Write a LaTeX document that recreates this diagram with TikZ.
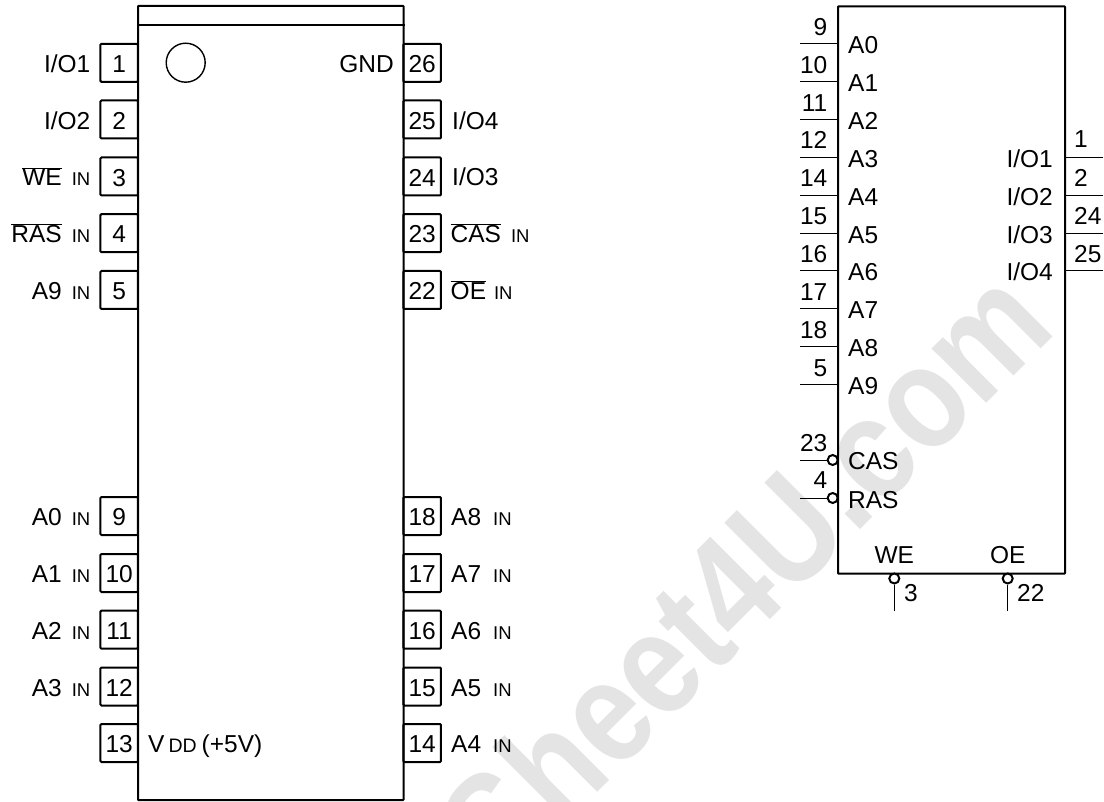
\documentclass[tikz,border=0pt]{standalone}
\usepackage{fontspec}
\setmainfont{Liberation Sans}
\definecolor{markgray}{HTML}{E4E4E4}
\newcommand{\smallin}{{\fontsize{18.5}{18.5}\selectfont IN}}
\newcommand{\barred}[1]{$\overline{\mbox{#1}}$}
\tikzset{
  every node/.style={font=\fontsize{24.5}{25}\selectfont, inner sep=0pt},
  body/.style={draw, line width=2pt, rounded corners=0.5pt},
  pinbox/.style={draw, line width=2pt, rounded corners=1pt, minimum width=37.5pt, minimum height=38pt, text height=19.4pt, text depth=0pt},
  lead/.style={line width=1pt},
  bubble/.style={circle, draw, line width=2pt, fill=white, minimum size=10pt},
  leftname/.style={anchor=base east},
  rightname/.style={anchor=base west},
  watermark/.style={text=markgray, font=\fontsize{146}{146}\selectfont\bfseries, rotate=45, xscale=0.85, anchor=base east},
}

\begin{document}
\begin{tikzpicture}[x=1pt,y=-1pt]
  \path [use as bounding box, clip] (0,0) rectangle (1104,802);
  \node [watermark] (mark) at (1059,331) {Sheet4U.com};

  \node [body, minimum width=265.5pt, minimum height=794pt] (dip) at (270.75,403) {};
  \coordinate (notchl) at (138,25);
  \draw [line width=2pt] (notchl) -- (notchl -| dip.east);
  \node [circle, draw, line width=1.4pt, minimum size=39pt] (dot) at (185.7,62.7) {};

  \node [pinbox] (p1) at (119.2,62.8) {1};
  \node [pinbox] (p2) at (119.2,119.5) {2};
  \node [pinbox] (p3) at (119.2,176.5) {3};
  \node [pinbox] (p4) at (119.2,233.2) {4};
  \node [pinbox] (p5) at (119.2,290) {5};
  \node [pinbox] (p9) at (119.2,516) {9};
  \node [pinbox] (p10) at (119.2,573) {10};
  \node [pinbox] (p11) at (119.2,629.7) {11};
  \node [pinbox] (p12) at (119.2,686.5) {12};
  \node [pinbox] (p13) at (119.2,743) {13};
  \node [pinbox] (p26) at (422.2,62.8) {26};
  \node [pinbox] (p25) at (422.2,119.5) {25};
  \node [pinbox] (p24) at (422.2,176.5) {24};
  \node [pinbox] (p23) at (422.2,233.2) {23};
  \node [pinbox] (p22) at (422.2,290) {22};
  \node [pinbox] (p18) at (422.2,516) {18};
  \node [pinbox] (p17) at (422.2,573) {17};
  \node [pinbox] (p16) at (422.2,629.7) {16};
  \node [pinbox] (p15) at (422.2,686.5) {15};
  \node [pinbox] (p14) at (422.2,743) {14};

  \node [leftname] (n1) at (90.5,72.5) {I/O1};
  \node [leftname] (n2) at (90.5,129.2) {I/O2};
  \node [leftname] (n3) at (90.5,186) {\barred{WE}\hspace{10pt}\smallin};
  \node [leftname] (n4) at (90.5,242.7) {\barred{RAS}\hspace{10pt}\smallin};
  \node [leftname] (n5) at (90.5,299.5) {A9\hspace{10pt}\smallin};
  \node [leftname] (n9) at (90.5,525.5) {A0\hspace{10pt}\smallin};
  \node [leftname] (n10) at (90.5,582.5) {A1\hspace{10pt}\smallin};
  \node [leftname] (n11) at (90.5,639.2) {A2\hspace{10pt}\smallin};
  \node [leftname] (n12) at (90.5,696) {A3\hspace{10pt}\smallin};
  \node [rightname] (n13) at (148,752.5) {V\hspace{4pt}{\fontsize{19.5}{20}\selectfont DD}\hspace{5pt}(+5V)};
  \node [leftname] (n26) at (394,72.5) {GND};
  \node [rightname] (n25) at (452,129.2) {I/O4};
  \node [rightname] (n24) at (452,186) {I/O3};
  \node [rightname] (n23) at (450.5,242.7) {\barred{CAS}\hspace{10pt}\smallin};
  \node [rightname] (n22) at (450.5,299.5) {\barred{OE}\hspace{8pt}\smallin};
  \node [rightname] (n18) at (451,525.5) {A8\hspace{12pt}\smallin};
  \node [rightname] (n17) at (451,582.5) {A7\hspace{12pt}\smallin};
  \node [rightname] (n16) at (451,639.2) {A6\hspace{12pt}\smallin};
  \node [rightname] (n15) at (451,696) {A5\hspace{12pt}\smallin};
  \node [rightname] (n14) at (451,752.5) {A4\hspace{12pt}\smallin};

  \node [body, minimum width=227pt, minimum height=567pt] (ic) at (951.5,290) {};

  \coordinate (t9) at (800,44);
  \coordinate (t10) at (800,81.8);
  \coordinate (t11) at (800,119.7);
  \coordinate (t12) at (800,157.5);
  \coordinate (t14) at (800,195.4);
  \coordinate (t15) at (800,233.2);
  \coordinate (t16) at (800,271);
  \coordinate (t17) at (800,309);
  \coordinate (t18) at (800,346.8);
  \coordinate (t5) at (800,384.7);
  \coordinate (t23) at (800,460);
  \coordinate (t4) at (800,498);
  \coordinate (t1) at (1103,157.5);
  \coordinate (t2) at (1103,195.4);
  \coordinate (t24) at (1103,233.2);
  \coordinate (t25) at (1103,271);
  \coordinate (t3) at (894.3,611);
  \coordinate (t22) at (1007.7,611);

  \node [bubble] (bcas) at (832.7,460) {};
  \node [bubble] (bras) at (832.7,498) {};
  \node [bubble] (bwe) at (894.3,578.5) {};
  \node [bubble] (boe) at (1007.7,578.5) {};

  \draw [lead] (t9) -- (t9 -| ic.west);
  \draw [lead] (t10) -- (t10 -| ic.west);
  \draw [lead] (t11) -- (t11 -| ic.west);
  \draw [lead] (t12) -- (t12 -| ic.west);
  \draw [lead] (t14) -- (t14 -| ic.west);
  \draw [lead] (t15) -- (t15 -| ic.west);
  \draw [lead] (t16) -- (t16 -| ic.west);
  \draw [lead] (t17) -- (t17 -| ic.west);
  \draw [lead] (t18) -- (t18 -| ic.west);
  \draw [lead] (t5) -- (t5 -| ic.west);
  \draw [lead] (t23) -- (bcas);
  \draw [lead] (t4) -- (bras);
  \draw [lead] (t1) -- (t1 -| ic.east);
  \draw [lead] (t2) -- (t2 -| ic.east);
  \draw [lead] (t24) -- (t24 -| ic.east);
  \draw [lead] (t25) -- (t25 -| ic.east);
  \draw [lead] (t3) -- (bwe);
  \draw [lead] (t22) -- (boe);

  \node [leftname] (m9) at (827.5,35.5) {9};
  \node [leftname] (m10) at (827.5,73.3) {10};
  \node [leftname] (m11) at (827.5,111.2) {11};
  \node [leftname] (m12) at (827.5,149) {12};
  \node [leftname] (m14) at (827.5,186.9) {14};
  \node [leftname] (m15) at (827.5,224.7) {15};
  \node [leftname] (m16) at (827.5,262.5) {16};
  \node [leftname] (m17) at (827.5,300.5) {17};
  \node [leftname] (m18) at (827.5,338.3) {18};
  \node [leftname] (m5) at (827.5,376.2) {5};
  \node [leftname] (m23) at (827.5,451) {23};
  \node [leftname] (m4) at (827.5,488.5) {4};
  \node [rightname] (m1) at (1074,148) {1};
  \node [rightname] (m2) at (1074,186.9) {2};
  \node [rightname] (m24) at (1074,224.7) {24};
  \node [rightname] (m25) at (1074,262.5) {25};
  \node [rightname] (m3) at (904,601.5) {3};
  \node [rightname] (m22) at (1017,601.5) {22};

  \node [rightname] (a0) at (848,54) {A0};
  \node [rightname] (a1) at (848,91.8) {A1};
  \node [rightname] (a2) at (848,129.7) {A2};
  \node [rightname] (a3) at (848,167.5) {A3};
  \node [rightname] (a4) at (848,205.4) {A4};
  \node [rightname] (a5) at (848,243.2) {A5};
  \node [rightname] (a6) at (848,281) {A6};
  \node [rightname] (a7) at (848,319) {A7};
  \node [rightname] (a8) at (848,356.8) {A8};
  \node [rightname] (a9) at (848,394.7) {A9};
  \node [rightname] (cas) at (848,470) {CAS};
  \node [rightname] (ras) at (848,508) {RAS};
  \node [leftname] (io1) at (1053,167.5) {I/O1};
  \node [leftname] (io2) at (1053,205.4) {I/O2};
  \node [leftname] (io3) at (1053,243.2) {I/O3};
  \node [leftname] (io4) at (1053,281) {I/O4};
  \node [anchor=base] (we) at (894.3,563.5) {WE};
  \node [anchor=base] (oe) at (1007.7,563.5) {OE};
\end{tikzpicture}
\end{document}
